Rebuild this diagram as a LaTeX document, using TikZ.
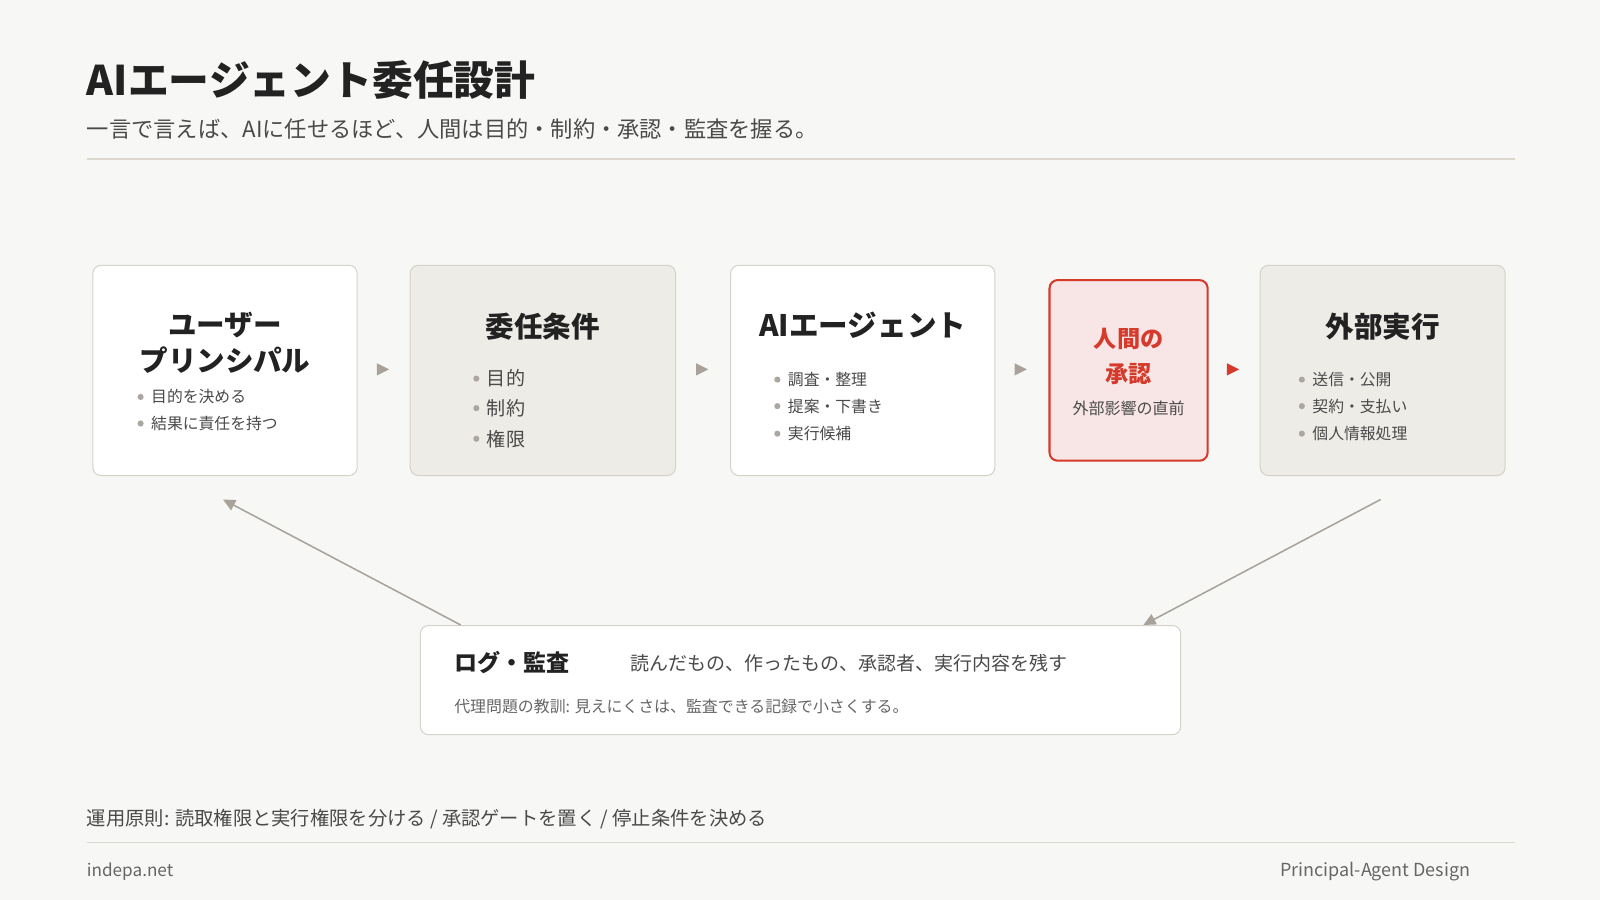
\documentclass[tikz,border=0pt]{standalone}
\usepackage{fontspec}
\setmainfont{Noto Sans CJK JP}[BoldFont={Noto Sans CJK JP Black}]
\usetikzlibrary{shapes.geometric,positioning,arrows.meta}
\definecolor{bg}{HTML}{F7F7F5}
\definecolor{ink}{HTML}{222222}
\definecolor{txt}{HTML}{4A4A4A}
\definecolor{soft}{HTML}{666666}
\definecolor{cardline}{HTML}{D6D2CA}
\definecolor{cardgray}{HTML}{EEECE7}
\definecolor{rule}{HTML}{DCD8D0}
\definecolor{dotc}{HTML}{ABA69F}
\definecolor{arrowc}{HTML}{A8A29A}
\definecolor{alert}{HTML}{D63A2A}
\definecolor{pink}{HTML}{F8E6E6}

\begin{document}
\begin{tikzpicture}[x=1pt,y=-1pt,
  card/.style={rectangle, draw=cardline, line width=1pt, rounded corners=8pt, fill=white, minimum width=259pt, minimum height=206pt},
  graycard/.style={card, fill=cardgray},
  ttl/.style={font=\bfseries\fontsize{28}{36}\selectfont, text=ink, align=center, inner sep=0},
  item/.style={anchor=west, inner sep=0, text=txt, font=\fontsize{15.5}{20}\selectfont,
    label={[circle, fill=dotc, inner sep=0, minimum size=6pt, label distance=7pt]left:{}}},
  gate/.style={isosceles triangle, isosceles triangle stretches, fill=arrowc, inner sep=0, minimum width=12pt, minimum height=12pt},
  flow/.style={draw=arrowc, line width=1.5pt, -{Triangle[length=12pt,width=11pt]}}]
  % Background
  \fill[bg] (0,0) rectangle (1568,882);
  % Header
  \node (title) [anchor=west, inner sep=0, text=ink, font=\bfseries\fontsize{40}{48}\selectfont] at (85,78) {AIエージェント委任設計};
  \node (sub) [anchor=west, inner sep=0, text=txt, font=\fontsize{21.8}{26}\selectfont] at (85,126) {一言で言えば、AIに任せるほど、人間は目的・制約・承認・監査を握る。};
  \draw[rule, line width=2pt] (85,156) -- (1485,156);
  % Cards
  \node (user) [card] at (220.5,363) {};
  \node (cond) [graycard, minimum width=260pt] at (532,363) {};
  \node (agent) [card] at (845.5,363) {};
  \node (human) [card, draw=alert, fill=pink, line width=2pt, minimum width=155pt, minimum height=177pt] at (1106,363) {};
  \node (ext) [graycard, minimum width=240pt] at (1355,363) {};
  % Card texts
  \node (userT) [ttl] at (220.5,336) {ユーザー\\プリンシパル};
  \node [item] at (148,389) {目的を決める};
  \node [item] at (148,415) {結果に責任を持つ};
  \node (condT) [ttl] at (532,320) {委任条件};
  \node [item, font=\fontsize{18.7}{22}\selectfont] at (477,371) {目的};
  \node [item, font=\fontsize{18.7}{22}\selectfont] at (477,400) {制約};
  \node [item, font=\fontsize{18.7}{22}\selectfont] at (477,430) {権限};
  \node (agentT) [ttl, font=\bfseries\fontsize{29}{36}\selectfont] at (845.5,319) {AIエージェント};
  \node [item] at (772,372) {調査・整理};
  \node [item] at (772,398) {提案・下書き};
  \node [item] at (772,425) {実行候補};
  \node (humanT) [ttl, text=alert, font=\bfseries\fontsize{22.7}{34}\selectfont] at (1106,349) {人間の\\承認};
  \node (humanS) [inner sep=0, text=txt, font=\fontsize{15.7}{20}\selectfont] at (1106,400) {外部影響の直前};
  \node (extT) [ttl] at (1355,320) {外部実行};
  \node [item] at (1286,372) {送信・公開};
  \node [item] at (1286,398) {契約・支払い};
  \node [item] at (1286,425) {個人情報処理};
  % Gates between cards
  \node (g1) [gate] at (373,362) {};
  \node (g2) [gate] at (686,362) {};
  \node (g3) [gate] at (998,362) {};
  \node (g4) [gate, fill=alert] at (1206,362) {};
  % Log box
  \node (log) [card, minimum width=745pt, minimum height=107pt] at (784.5,666.5) {};
  \node (logT) [anchor=west, inner sep=0, text=ink, font=\bfseries\fontsize{22.6}{26}\selectfont] at (445,649) {ログ・監査};
  \node (logS) [anchor=west, inner sep=0, text=txt, font=\fontsize{18.6}{22}\selectfont] at (618,650) {読んだもの、作ったもの、承認者、実行内容を残す};
  \node (logN) [anchor=west, inner sep=0, text=soft, font=\fontsize{15.6}{18}\selectfont] at (445,692) {代理問題の教訓: 見えにくさは、監査できる記録で小さくする。};
  % Arrows
  \coordinate (logL) at ([xshift=40pt]log.north west);
  \coordinate (logR) at ([xshift=-37pt]log.north east);
  \coordinate (userB) at ([xshift=-2pt,yshift=-23pt]user.south);
  \coordinate (extB) at ([xshift=-2pt,yshift=-23pt]ext.south);
  \draw[flow] (logL) -- (userB);
  \draw[flow] (extB) -- (logR);
  % Footer
  \node (rules) [anchor=west, inner sep=0, text=txt, font=\fontsize{18.9}{22}\selectfont] at (85,803) {運用原則: 読取権限と実行権限を分ける / 承認ゲートを置く / 停止条件を決める};
  \draw[rule, line width=1pt] (85,826) -- (1485,826);
  \node (site) [anchor=west, inner sep=0, text=soft, font=\fontsize{16.8}{20}\selectfont] at (85,854) {indepa.net};
  \node (brand) [anchor=east, inner sep=0, text=soft, font=\fontsize{17.6}{20}\selectfont] at (1441,854) {Principal-Agent Design};
\end{tikzpicture}
\end{document}
